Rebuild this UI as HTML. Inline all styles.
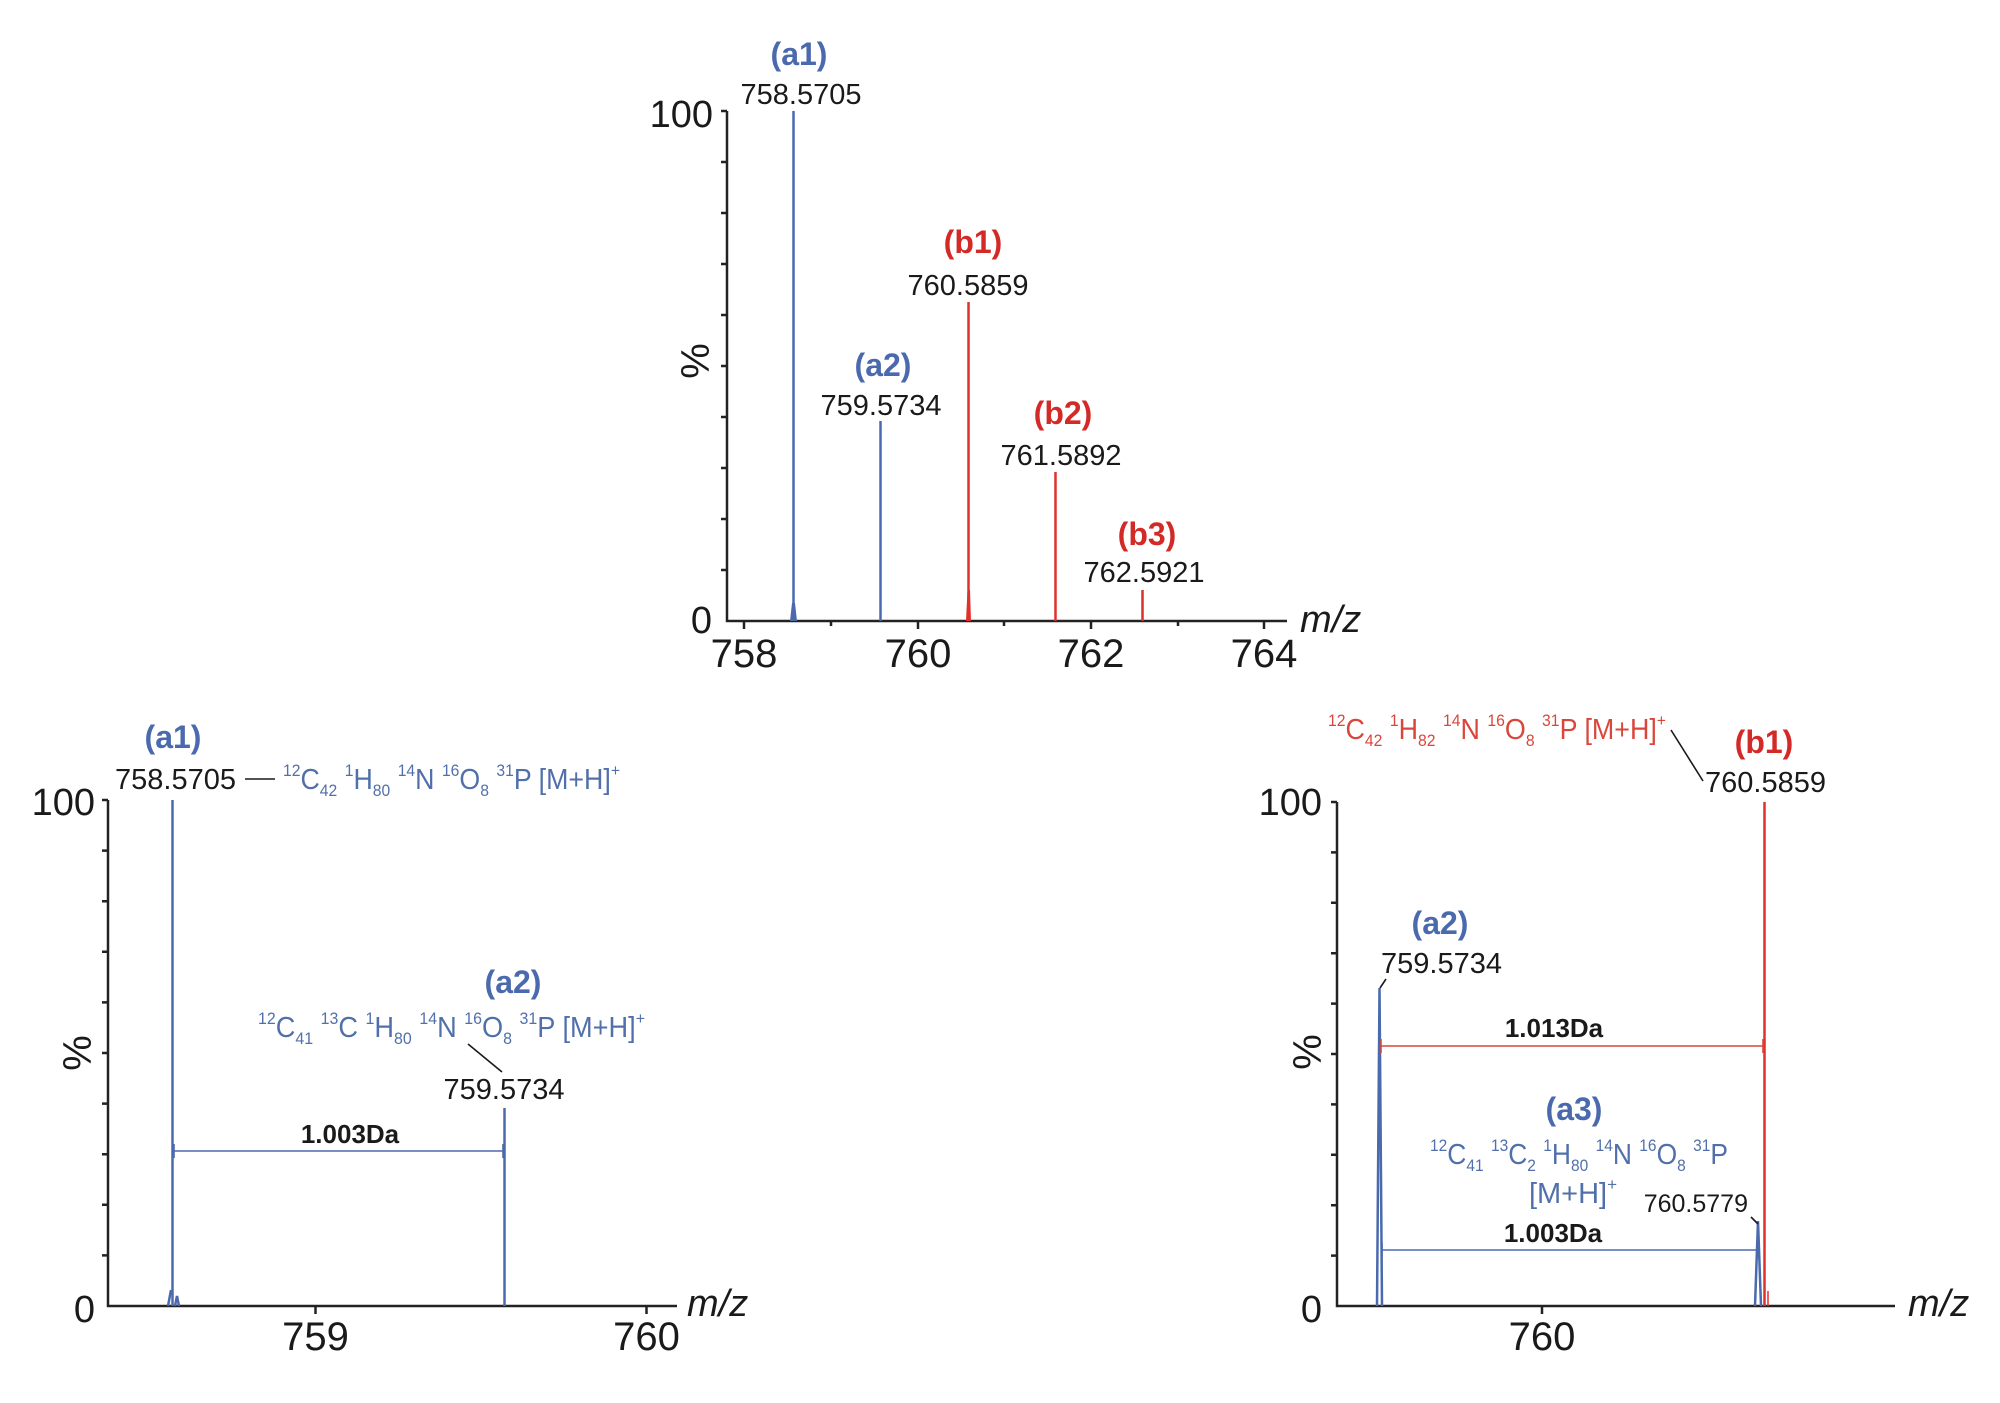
<!DOCTYPE html>
<html><head><meta charset="utf-8"><style>
html,body{margin:0;padding:0;background:#fff;}
svg{display:block;}
text{font-family:"Liberation Sans",Arial,sans-serif;}
</style></head><body>
<svg width="2000" height="1403" viewBox="0 0 2000 1403" xmlns="http://www.w3.org/2000/svg">
<rect width="2000" height="1403" fill="#fff"/>

<!-- ================= TOP CHART ================= -->
<g stroke="#222" stroke-width="2.5" fill="none">
  <path d="M727 111 V621 H1287"/>
  <path d="M721 111H727 M721 162H727 M721 213H727 M721 264H727 M721 315H727 M721 366H727 M721 417H727 M721 468H727 M721 519H727 M721 570H727"/>
  <path d="M744 621v8 M918 621v8 M1091 621v8 M1264 621v8 M831 621v5 M1004 621v5 M1178 621v5"/>
</g>
<g stroke-width="2.5" fill="none">
  <path d="M793.5 621V111" stroke="#4a6aad"/>
  <path d="M880.5 621V421" stroke="#4a6aad"/>
  <path d="M968.5 621V302" stroke="#e0302b"/>
  <path d="M1055.5 621V472" stroke="#e0302b"/>
  <path d="M1142.5 621V590" stroke="#d8302a"/>
</g>
<path d="M790 621 L792 603 L795 603 L797 621Z" fill="#4a6aad"/>
<path d="M966 621 L967.5 590 L970 590 L971 621Z" fill="#e0302b"/>
<g font-size="40" fill="#1a1a1a" text-anchor="middle">
  <text x="744" y="667">758</text><text x="918" y="667">760</text>
  <text x="1091" y="667">762</text><text x="1264" y="667">764</text>
</g>
<g font-size="38" fill="#1a1a1a" text-anchor="end">
  <text x="713" y="127">100</text><text x="712" y="633">0</text>
</g>
<text x="1300" y="632" font-size="38" font-style="italic" fill="#1a1a1a">m/z</text>
<text transform="translate(709,361) rotate(-90)" font-size="40" fill="#1a1a1a" text-anchor="middle">%</text>
<g font-size="32" font-weight="bold" text-anchor="middle">
  <text x="799" y="65" fill="#4a6aad">(a1)</text>
  <text x="883" y="376" fill="#4a6aad">(a2)</text>
  <text x="973" y="253" fill="#d42a27">(b1)</text>
  <text x="1063" y="424" fill="#d42a27">(b2)</text>
  <text x="1147" y="545" fill="#d42a27">(b3)</text>
</g>
<g font-size="29" fill="#1a1a1a" text-anchor="middle">
  <text x="801" y="104">758.5705</text>
  <text x="881" y="415">759.5734</text>
  <text x="968" y="295">760.5859</text>
  <text x="1061" y="465">761.5892</text>
  <text x="1144" y="582">762.5921</text>
</g>

<!-- ================= LEFT CHART ================= -->
<g stroke="#222" stroke-width="2.5" fill="none">
  <path d="M108 800 V1306 H677"/>
  <path d="M102 800H108 M102 850.6H108 M102 901.2H108 M102 951.8H108 M102 1002.4H108 M102 1053H108 M102 1103.6H108 M102 1154.2H108 M102 1204.8H108 M102 1255.4H108"/>
  <path d="M315.5 1306v8 M646.5 1306v8"/>
</g>
<g stroke="#4a6aad" stroke-width="2.5" fill="none">
  <path d="M172.5 1306V800"/>
  <path d="M504.5 1306V1108"/>
  <path d="M168 1306 L171 1290 M175 1306 L177 1296 L179 1306"/>
</g>
<g stroke="#4a6aad" stroke-width="1.6" fill="none">
  <path d="M174 1151H503 M174 1144v14 M503 1144v14"/>
</g>
<text x="350" y="1143" font-size="26" font-weight="bold" fill="#1a1a1a" text-anchor="middle">1.003Da</text>
<g font-size="40" fill="#1a1a1a" text-anchor="middle">
  <text x="315.5" y="1350">759</text><text x="646.5" y="1350">760</text>
</g>
<g font-size="38" fill="#1a1a1a" text-anchor="end">
  <text x="95" y="815">100</text><text x="95" y="1322">0</text>
</g>
<text x="687" y="1316" font-size="38" font-style="italic" fill="#1a1a1a">m/z</text>
<text transform="translate(91,1053) rotate(-90)" font-size="40" fill="#1a1a1a" text-anchor="middle">%</text>
<g font-size="32" font-weight="bold" text-anchor="middle" fill="#4a6aad">
  <text x="173" y="748">(a1)</text>
  <text x="513" y="993">(a2)</text>
</g>
<g font-size="29" fill="#1a1a1a">
  <text x="236" y="789" text-anchor="end">758.5705</text>
  <text x="504" y="1099" text-anchor="middle">759.5734</text>
</g>
<g stroke="#1a1a1a" stroke-width="1.6">
  <path d="M245 779H275"/>
  <path d="M468 1044L502 1072"/>
</g>
<text x="283" y="789" font-size="29" fill="#5170ab" textLength="337" lengthAdjust="spacingAndGlyphs"><tspan font-size="17" dy="-13">12</tspan><tspan dy="13">C</tspan><tspan font-size="17" dy="7">42</tspan><tspan dy="-7"> </tspan><tspan font-size="17" dy="-13">1</tspan><tspan dy="13">H</tspan><tspan font-size="17" dy="7">80</tspan><tspan dy="-7"> </tspan><tspan font-size="17" dy="-13">14</tspan><tspan dy="13">N </tspan><tspan font-size="17" dy="-13">16</tspan><tspan dy="13">O</tspan><tspan font-size="17" dy="7">8</tspan><tspan dy="-7"> </tspan><tspan font-size="17" dy="-13">31</tspan><tspan dy="13">P [M+H]</tspan><tspan font-size="17" dy="-13">+</tspan></text>
<text x="258" y="1037" font-size="29" fill="#5170ab" textLength="387" lengthAdjust="spacingAndGlyphs"><tspan font-size="17" dy="-13">12</tspan><tspan dy="13">C</tspan><tspan font-size="17" dy="7">41</tspan><tspan dy="-7"> </tspan><tspan font-size="17" dy="-13">13</tspan><tspan dy="13">C </tspan><tspan font-size="17" dy="-13">1</tspan><tspan dy="13">H</tspan><tspan font-size="17" dy="7">80</tspan><tspan dy="-7"> </tspan><tspan font-size="17" dy="-13">14</tspan><tspan dy="13">N </tspan><tspan font-size="17" dy="-13">16</tspan><tspan dy="13">O</tspan><tspan font-size="17" dy="7">8</tspan><tspan dy="-7"> </tspan><tspan font-size="17" dy="-13">31</tspan><tspan dy="13">P [M+H]</tspan><tspan font-size="17" dy="-13">+</tspan></text>

<!-- ================= RIGHT CHART ================= -->
<g stroke="#222" stroke-width="2.5" fill="none">
  <path d="M1337 802 V1306 H1895"/>
  <path d="M1331 802H1337 M1331 852.4H1337 M1331 902.8H1337 M1331 953.2H1337 M1331 1003.6H1337 M1331 1054H1337 M1331 1104.4H1337 M1331 1154.8H1337 M1331 1205.2H1337 M1331 1255.6H1337"/>
  <path d="M1542 1306v8"/>
</g>
<g stroke-width="2.5" fill="none">
  <path d="M1377 1306 L1379.5 988 L1382 1306" stroke="#4a6aad"/>
  <path d="M1755 1306 L1758 1221 L1761 1306" stroke="#4a6aad"/>
  <path d="M1764.5 1306V802" stroke="#e0302b"/>
  <path d="M1768 1306V1291" stroke="#e0302b" stroke-width="1.5"/>
</g>
<g stroke-width="1.6" fill="none">
  <path d="M1381 1046H1763 M1381 1039v14 M1763 1039v14" stroke="#d9473c"/>
  <path d="M1382 1250H1757 M1382 1243v14 M1757 1243v14" stroke="#4a6aad"/>
</g>
<g font-size="26" font-weight="bold" fill="#1a1a1a" text-anchor="middle">
  <text x="1554" y="1037">1.013Da</text>
  <text x="1553" y="1242">1.003Da</text>
</g>
<text x="1542" y="1350" font-size="40" fill="#1a1a1a" text-anchor="middle">760</text>
<g font-size="38" fill="#1a1a1a" text-anchor="end">
  <text x="1322" y="815">100</text><text x="1322" y="1322">0</text>
</g>
<text x="1908" y="1316" font-size="38" font-style="italic" fill="#1a1a1a">m/z</text>
<text transform="translate(1321,1052) rotate(-90)" font-size="40" fill="#1a1a1a" text-anchor="middle">%</text>
<g font-size="32" font-weight="bold" text-anchor="middle">
  <text x="1764" y="753" fill="#d42a27">(b1)</text>
  <text x="1440" y="934" fill="#4a6aad">(a2)</text>
  <text x="1574" y="1120" fill="#4a6aad">(a3)</text>
</g>
<g font-size="29" fill="#1a1a1a">
  <text x="1705" y="792">760.5859</text>
  <text x="1381" y="973">759.5734</text>
</g>
<text x="1748" y="1212" font-size="25" fill="#1a1a1a" text-anchor="end">760.5779</text>
<g stroke="#1a1a1a" stroke-width="1.6" fill="none">
  <path d="M1671 730L1703 781"/>
  <path d="M1380 988L1386 979"/>
  <path d="M1751 1217L1758 1224"/>
</g>
<text x="1328" y="739" font-size="29" fill="#d9473c" textLength="338" lengthAdjust="spacingAndGlyphs"><tspan font-size="17" dy="-13">12</tspan><tspan dy="13">C</tspan><tspan font-size="17" dy="7">42</tspan><tspan dy="-7"> </tspan><tspan font-size="17" dy="-13">1</tspan><tspan dy="13">H</tspan><tspan font-size="17" dy="7">82</tspan><tspan dy="-7"> </tspan><tspan font-size="17" dy="-13">14</tspan><tspan dy="13">N </tspan><tspan font-size="17" dy="-13">16</tspan><tspan dy="13">O</tspan><tspan font-size="17" dy="7">8</tspan><tspan dy="-7"> </tspan><tspan font-size="17" dy="-13">31</tspan><tspan dy="13">P [M+H]</tspan><tspan font-size="17" dy="-13">+</tspan></text>
<text x="1430" y="1164" font-size="29" fill="#5170ab" textLength="298" lengthAdjust="spacingAndGlyphs"><tspan font-size="17" dy="-13">12</tspan><tspan dy="13">C</tspan><tspan font-size="17" dy="7">41</tspan><tspan dy="-7"> </tspan><tspan font-size="17" dy="-13">13</tspan><tspan dy="13">C</tspan><tspan font-size="17" dy="7">2</tspan><tspan dy="-7"> </tspan><tspan font-size="17" dy="-13">1</tspan><tspan dy="13">H</tspan><tspan font-size="17" dy="7">80</tspan><tspan dy="-7"> </tspan><tspan font-size="17" dy="-13">14</tspan><tspan dy="13">N </tspan><tspan font-size="17" dy="-13">16</tspan><tspan dy="13">O</tspan><tspan font-size="17" dy="7">8</tspan><tspan dy="-7"> </tspan><tspan font-size="17" dy="-13">31</tspan><tspan dy="13">P</tspan></text>
<text x="1573" y="1203" font-size="29" fill="#5170ab" text-anchor="middle">[M+H]<tspan font-size="17" dy="-13">+</tspan></text>
</svg>
</body></html>
